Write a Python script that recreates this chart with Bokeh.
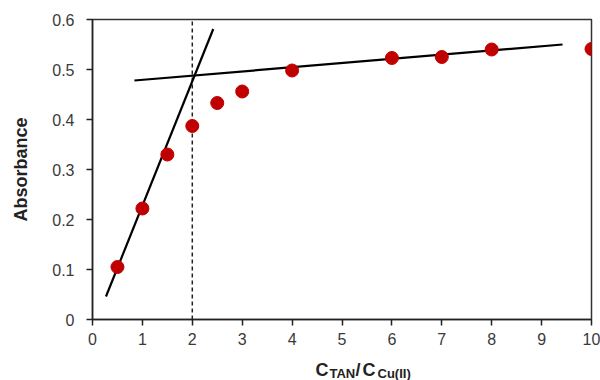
from bokeh.plotting import figure
from bokeh.models import FixedTicker, Label, Range1d
from bokeh.layouts import column
from bokeh.embed import file_html
from bokeh.resources import INLINE

# Data
ratio = [0.5, 1, 1.5, 2, 2.5, 3, 4, 6, 7, 8, 10]
absorbance = [0.105, 0.222, 0.330, 0.387, 0.433, 0.456, 0.498, 0.523, 0.525, 0.540, 0.541]

steep_x = [0.27, 2.42]
steep_y = [0.046, 0.581]
flat_x = [0.84, 9.42]
flat_y = [0.478, 0.550]
eq_x = [2, 2]
eq_y = [0.0, 0.6]

x_ticks = [0, 1, 2, 3, 4, 5, 6, 7, 8, 9, 10]
y_ticks = [0, 0.1, 0.2, 0.3, 0.4, 0.5, 0.6]

x_label_parts = ["C", "TAN", "/", "C", "Cu(II)"]

FONT = "Liberation Sans"

p = figure(width=600, height=352, output_backend="svg", toolbar_location=None,
           x_range=Range1d(0, 10), y_range=Range1d(0, 0.6),
           min_border_left=92, min_border_right=9, min_border_top=19, min_border_bottom=33)
p.background_fill_color = "white"
p.border_fill_color = "white"
p.outline_line_color = "#333333"
p.outline_line_width = 1.5
p.grid.visible = False

for ax in (p.xaxis[0], p.yaxis[0]):
    ax.axis_line_color = "#222222"
    ax.axis_line_width = 1.5
    ax.major_tick_line_color = "#222222"
    ax.major_tick_line_width = 1.5
    ax.major_tick_out = 6
    ax.major_tick_in = 0
    ax.minor_tick_line_color = None
    ax.major_label_text_font = FONT
    ax.major_label_text_font_size = "16px"
    ax.major_label_text_color = "#3a3a3a"

p.xaxis.ticker = FixedTicker(ticks=x_ticks)
p.yaxis.ticker = FixedTicker(ticks=y_ticks)
p.yaxis.major_label_overrides = {0: "0"}
p.xaxis.major_label_standoff = 7
p.yaxis.major_label_standoff = 12

p.yaxis.axis_label = "Absorbance"
p.yaxis.axis_label_text_font = FONT
p.yaxis.axis_label_text_font_style = "bold"
p.yaxis.axis_label_text_font_size = "18px"
p.yaxis.axis_label_text_color = "#222222"
p.yaxis.axis_label_standoff = 18

p.line(eq_x, eq_y, line_color="#222222", line_width=1.5, line_dash="4 3")
p.line(steep_x, steep_y, line_color="black", line_width=2.2)
p.line(flat_x, flat_y, line_color="black", line_width=2.2)
p.scatter(ratio, absorbance, size=13, fill_color="#c00000", line_color="#c00000")

# strip below the chart carrying the x-axis title C_TAN / C_Cu(II)
lab = figure(width=600, height=28, output_backend="svg", toolbar_location=None,
             x_axis_location=None, y_axis_location=None,
             x_range=Range1d(0, 600), y_range=Range1d(0, 28),
             min_border_left=0, min_border_right=0, min_border_top=0, min_border_bottom=0)
lab.outline_line_color = None
lab.grid.visible = False
lab.background_fill_color = "white"
lab.border_fill_color = "white"

# positions relative to the strip's frame (which the column aligns with the chart frame)
pos = [(223, 11, "18px"), (237, 7, "13px"), (263, 11, "18px"), (270, 11, "18px"), (285, 7, "13px")]
for txt, (sx, sy, fs) in zip(x_label_parts, pos):
    lab.add_layout(Label(x=sx, y=sy, x_units="screen", y_units="screen", text=txt,
                         text_font=FONT, text_font_style="bold", text_font_size=fs,
                         text_color="#222222", text_baseline="alphabetic"))

layout = column(p, lab, spacing=0)
open("out.html", "w").write(file_html(layout, INLINE))
